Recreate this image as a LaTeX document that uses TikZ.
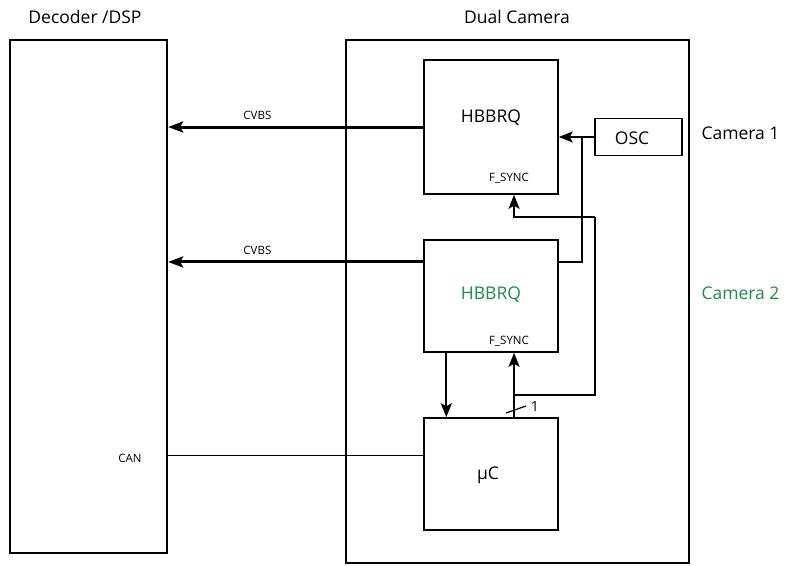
\documentclass[tikz,border=0pt]{standalone}
\usepackage{fontspec}
\setmainfont{Open Sans}
\usetikzlibrary{arrows.meta,calc}

\definecolor{camgreen}{RGB}{30,140,70}

\tikzset{
  outerbox/.style={draw, line width=2.2pt, inner sep=0pt},
  blk/.style={draw, line width=1.5pt, inner sep=0pt, minimum width=134pt},
  sig/.style={line width=1.2pt},
  bus/.style={line width=3pt, -{Stealth[length=15pt,width=11pt,inset=3pt]}},
  ctl/.style={line width=2pt, -{Stealth[length=14pt,width=11pt,inset=3pt]}},
  big/.style={font=\fontsize{17.5}{20}\selectfont},
  tiny/.style={font=\fontsize{11.5}{13}\selectfont},
}

\begin{document}
\begin{tikzpicture}[x=1pt, y=-1pt]
    \useasboundingbox (0,0) rectangle (791,565) ;
    % frames
    \node[outerbox, minimum width=157pt, minimum height=513pt] (dec) at (88.5,296.5) {} ;
    \node[outerbox, minimum width=343pt, minimum height=523pt] (cam) at (517.5,301.5) {} ;
    \node[big] at (85,17) {Decoder /DSP} ;
    \node[big] at (517,17) {Dual Camera} ;
    % blocks inside the camera
    \node[blk, minimum height=134pt] (hb1) at (491,127) {} ;
    \node[blk, minimum height=112pt] (hb2) at (491,296) {} ;
    \node[blk, minimum height=112pt] (uc) at (491,474) {} ;
    \node[draw, line width=1.5pt, minimum width=87pt, minimum height=37pt] (osc) at (638.5,137) {} ;
    \node[big] at (491,118) {HBBRQ} ;
    \node[big, text=camgreen] at (491,295) {HBBRQ} ;
    \node[big] at (488,475) {µC} ;
    \node[big] at (632,138) {OSC} ;
    \node[tiny] at (509,178) {F\_SYNC} ;
    \node[tiny] at (509,341) {F\_SYNC} ;
    \node[big, anchor=west] at (698,133) {Camera 1} ;
    \node[big, anchor=west, text=camgreen] at (698,293) {Camera 2} ;
    % anchor points
    \coordinate (v2) at ($(hb2.north west)!0.2!(hb2.south west)$) ;
    \coordinate (can) at ($(uc.north west)!0.34!(uc.south west)$) ;
    \coordinate (fs1) at ($(hb1.south west)!0.67!(hb1.south east)$) ;
    \coordinate (fs2) at ($(hb2.south west)!0.67!(hb2.south east)$) ;
    \coordinate (out2) at ($(hb2.south west)!0.17!(hb2.south east)$) ;
    \coordinate (clk) at (582,137) ;
    \coordinate (tap) at (514,395) ;
    % video outputs
    \draw[bus] (hb1.west) -- (dec.east |- hb1.west) node[pos=0.65, above=3pt, tiny] {CVBS} ;
    \draw[bus] (v2) -- (dec.east |- v2) node[pos=0.65, above=3pt, tiny] {CVBS} ;
    \draw[sig] (can) -- (dec.east |- can) ;
    \node[tiny] at (130,458) {CAN} ;
    % clock
    \draw[ctl] (osc.west) -- (osc.west -| hb1.east) ;
    \draw[sig] (clk) |- (v2 -| hb2.east) ;
    % sync
    \draw[ctl] (fs2 |- uc.north) -- (fs2) ;
    \draw[ctl] (out2) -- (out2 |- uc.north) ;
    \draw[sig] (tap) -| (595,217) ;
    \draw[ctl] (595,217) -| (fs1) ;
    \draw[sig] (506,413) -- (526,406) node[right=1pt, font=\fontsize{14}{16}\selectfont] {1} ;
  \end{tikzpicture}
\end{document}
